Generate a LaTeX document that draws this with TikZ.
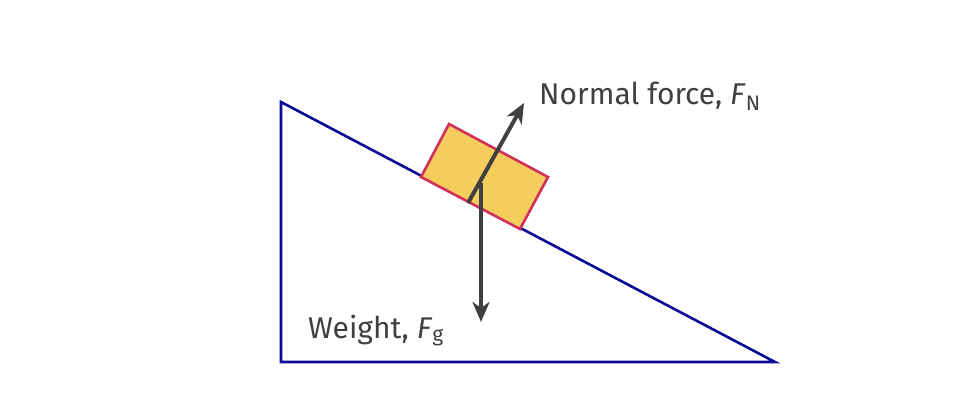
\documentclass[tikz,border=0pt]{standalone}
\usepackage{fontspec}
\setmainfont{Fira Sans}
\usetikzlibrary{arrows.meta}
\definecolor{incl}{HTML}{0A0A96}
\definecolor{blk}{HTML}{F4CD5C}
\definecolor{blkedge}{HTML}{D0305A}
\definecolor{frc}{HTML}{404040}
\tikzset{force/.style={draw=frc,line width=4pt,-{Stealth[length=20pt,width=17pt,inset=6pt]}},
lbl/.style={text=frc,font=\fontsize{30}{34}\selectfont,inner sep=0pt}}
\begin{document}
\begin{tikzpicture}[x=1pt,y=-1pt]
\useasboundingbox (0,0) rectangle (978,412);
\coordinate (A) at (281,102);
\coordinate (B) at (281,362);
\coordinate (C) at (775,362);
\draw[incl,line width=2.6pt,line join=miter] (A) -- (B) -- (C) -- cycle;
\draw[fill=blk,draw=blkedge,line width=2.6pt] (421,177) -- (449,124) -- (548,177) -- (520,229) -- cycle;
\coordinate (ns) at (468,203);
\coordinate (ne) at (524,103);
\coordinate (ws) at (481,183);
\coordinate (we) at (481,322);
\draw[force] (ns) -- (ne);
\draw[force] (ws) -- (we);
\node[lbl,anchor=base west] (nl) at (539,105) {Normal force, \emph{F}\textsubscript{N}};
\node[lbl,anchor=base west] (wl) at (308,338) {Weight, \emph{F}\textsubscript{g}};
\end{tikzpicture}
\end{document}
